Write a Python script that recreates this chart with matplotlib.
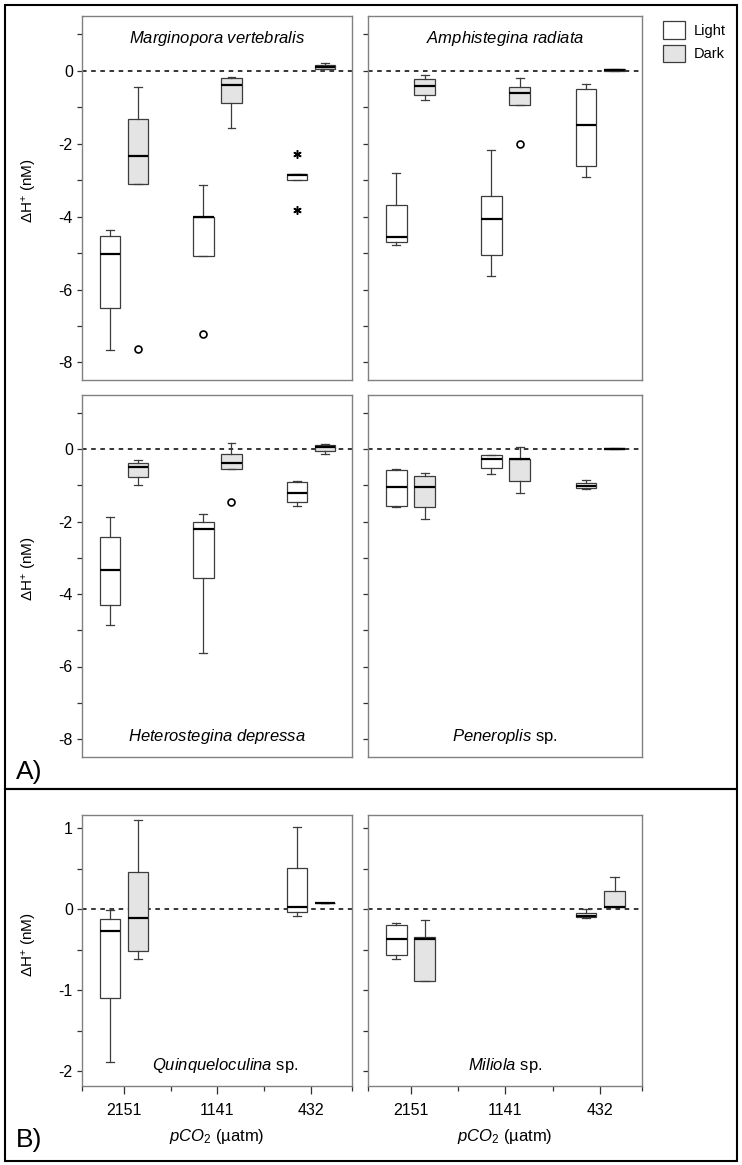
import numpy as np
import matplotlib
matplotlib.use('Agg')
import matplotlib.pyplot as plt
from matplotlib.patches import Patch, Rectangle

plt.rcParams['font.family'] = ['Liberation Sans', 'DejaVu Sans']
plt.rcParams['mathtext.fontset'] = 'custom'
plt.rcParams['mathtext.rm'] = 'Liberation Sans'
plt.rcParams['mathtext.it'] = 'Liberation Sans:italic'
plt.rcParams['mathtext.bf'] = 'Liberation Sans:bold'
plt.rcParams['axes.unicode_minus'] = False

# pCO2 treatments
groups = ['2151', '1141', '432']

# box stats per group: (whislo, q1, med, q3, whishi); None = no box
mv_light = [(-7.66, -6.51, -5.02, -4.53, -4.37), (-5.09, -5.09, -4.02, -4.02, -3.13), (-3.00, -3.00, -2.86, -2.84, -2.84)]
mv_dark = [(-3.11, -3.11, -2.34, -1.32, -0.46), (-1.58, -0.89, -0.40, -0.21, -0.16), (0.04, 0.06, 0.11, 0.16, 0.20)]
mv_light_out = [[], [-7.21], []]
mv_dark_out = [[-7.63], [], []]
mv_light_ext = [[], [], [-2.29, -3.82]]

ar_light = [(-4.79, -4.69, -4.56, -3.67, -2.81), (-5.63, -5.06, -4.06, -3.44, -2.18), (-2.92, -2.62, -1.49, -0.51, -0.37)]
ar_dark = [(-0.80, -0.67, -0.42, -0.24, -0.13), (-0.94, -0.94, -0.62, -0.44, -0.21), (0.00, 0.00, 0.03, 0.05, 0.05)]
ar_dark_out = [[], [-2.02], []]

hd_light = [(-4.84, -4.29, -3.33, -2.41, -1.88), (-5.62, -3.56, -2.21, -2.00, -1.78), (-1.57, -1.46, -1.22, -0.89, -0.87)]
hd_dark = [(-1.00, -0.76, -0.49, -0.38, -0.30), (-0.54, -0.54, -0.39, -0.12, 0.17), (-0.14, -0.05, 0.06, 0.12, 0.15)]
hd_dark_out = [[], [-1.45], []]

pe_light = [(-1.60, -1.57, -1.05, -0.56, -0.54), (-0.69, -0.52, -0.26, -0.17, -0.16), (-1.09, -1.07, -1.01, -0.92, -0.85)]
pe_dark = [(-1.93, -1.60, -1.04, -0.74, -0.66), (-1.21, -0.87, -0.28, -0.26, 0.07), (0.01, 0.01, 0.02, 0.03, 0.03)]

qu_light = [(-1.89, -1.10, -0.27, -0.12, -0.01), None, (-0.09, -0.04, 0.02, 0.51, 1.01)]
qu_dark = [(-0.61, -0.52, -0.11, 0.46, 1.10), None, (0.07, 0.07, 0.08, 0.08, 0.08)]

mi_light = [(-0.61, -0.57, -0.37, -0.19, -0.17), None, (-0.11, -0.10, -0.09, -0.05, 0.00)]
mi_dark = [(-0.88, -0.88, -0.37, -0.34, -0.14), None, (0.02, 0.02, 0.03, 0.22, 0.39)]

none3 = [[], [], []]

LIGHT = 'white'
DARK = '#e4e4e4'
EDGE = '#3c3c3c'
SPINE = '#808080'
TICKFS = 11.5
TITLEFS = 12


def to_stats(rows, outs):
    stats, pos = [], []
    for i, r in enumerate(rows):
        if r is None:
            continue
        stats.append(dict(whislo=r[0], q1=r[1], med=r[2], q3=r[3], whishi=r[4], fliers=outs[i]))
        pos.append(i)
    return stats, pos


def draw_boxes(ax, rows, outs, fill, shift):
    stats, pos = to_stats(rows, outs)
    pos = np.array(pos) + shift
    ax.bxp(stats, positions=pos, widths=0.22, patch_artist=True, manage_ticks=False,
           boxprops=dict(facecolor=fill, edgecolor=EDGE, linewidth=0.9),
           medianprops=dict(color='black', linewidth=1.6),
           whiskerprops=dict(color=EDGE, linewidth=0.9),
           capprops=dict(color=EDGE, linewidth=0.9), capwidths=0.085,
           flierprops=dict(marker='o', markerfacecolor='none', markeredgecolor='black',
                           markersize=5, markeredgewidth=1.2))


def panel(ax, light, dark, lout, dout, ylim, yticks, ylabels, left):
    ax.axhline(0, color='black', ls=(0, (3, 3)), lw=1.1, zorder=0)
    draw_boxes(ax, light, lout, LIGHT, -0.15)
    draw_boxes(ax, dark, dout, DARK, 0.15)
    ax.set_xlim(-0.45, 2.44)
    ax.set_ylim(*ylim)
    ax.set_yticks(yticks)
    if left:
        ax.set_yticklabels(ylabels, fontsize=TICKFS)
        ax.set_ylabel('ΔH$^{+}$ (nM)', fontsize=11)
        ax.yaxis.set_label_coords(-0.16, 0.52)
    else:
        ax.set_yticklabels([])
    ax.tick_params(axis='y', length=3.6, width=0.9, color='#303030', pad=3)
    for s in ax.spines.values():
        s.set_color(SPINE)
        s.set_linewidth(1.0)


fig = plt.figure(figsize=(7.42, 11.65), dpi=100)
H = 1165.0
W = 742.0

def add_ax(x0, y0, x1, y1):
    return fig.add_axes([x0 / W, 1 - y1 / H, (x1 - x0) / W, (y1 - y0) / H])

big_ticks = list(range(-8, 2))
big_labels = [str(t) if t % 2 == 0 else '' for t in big_ticks]
small_ticks = [-2, -1.5, -1, -0.5, 0, 0.5, 1]
small_labels = ['-2', '', '-1', '', '0', '', '1']

ax1 = add_ax(82, 16, 352, 380)
ax2 = add_ax(368, 16, 642, 380)
ax3 = add_ax(82, 395, 352, 757)
ax4 = add_ax(368, 395, 642, 757)
ax5 = add_ax(82, 815, 352, 1086)
ax6 = add_ax(368, 815, 642, 1086)

panel(ax1, mv_light, mv_dark, mv_light_out, mv_dark_out, (-8.48, 1.5), big_ticks, big_labels, True)
for i, ext in enumerate(mv_light_ext):
    if ext:
        ax1.plot([i - 0.15] * len(ext), ext, ls='none', marker=(6, 2, 0), color='black',
                 ms=6, mew=1.1)
panel(ax2, ar_light, ar_dark, none3, ar_dark_out, (-8.48, 1.5), big_ticks, big_labels, False)
panel(ax3, hd_light, hd_dark, none3, hd_dark_out, (-8.5, 1.5), big_ticks, big_labels, True)
panel(ax4, pe_light, pe_dark, none3, none3, (-8.5, 1.5), big_ticks, big_labels, False)
panel(ax5, qu_light, qu_dark, none3, none3, (-2.18, 1.16), small_ticks, small_labels, True)
panel(ax6, mi_light, mi_dark, none3, none3, (-2.18, 1.16), small_ticks, small_labels, False)

for ax in (ax1, ax2, ax3, ax4):
    ax.set_xticks([])

for ax in (ax5, ax6):
    ax.set_xticks(range(len(groups)))
    ax.set_xticklabels(groups, fontsize=TICKFS)
    ax.set_xticks([-0.45, 0.5, 1.5, 2.44], minor=True)
    ax.tick_params(axis='x', which='major', length=6, width=0.9, color='#303030', pad=6)
    ax.tick_params(axis='x', which='minor', length=3.5, width=0.9, color='#303030')
    ax.set_xlabel('$pCO_2$ (µatm)', fontsize=12, labelpad=7)

title_kw = dict(ha='center', fontsize=TITLEFS)
ax1.text(0.5, 0.937, r'$\mathit{Marginopora\ vertebralis}$', transform=ax1.transAxes, va='center', **title_kw)
ax2.text(0.5, 0.937, r'$\mathit{Amphistegina\ radiata}$', transform=ax2.transAxes, va='center', **title_kw)
ax3.text(0.5, 0.058, r'$\mathit{Heterostegina\ depressa}$', transform=ax3.transAxes, va='center', **title_kw)
ax4.text(0.5, 0.058, r'$\mathit{Peneroplis}$ sp.', transform=ax4.transAxes, va='center', **title_kw)
ax5.text(0.53, 0.074, r'$\mathit{Quinqueloculina}$ sp.', transform=ax5.transAxes, va='center', **title_kw)
ax6.text(0.5, 0.074, r'$\mathit{Miliola}$ sp.', transform=ax6.transAxes, va='center', **title_kw)

# outer frames
fig.add_artist(Rectangle((5 / W, 1 - 789 / H), 732 / W, 784 / H, transform=fig.transFigure,
                         fill=False, lw=1.5, edgecolor='black'))
fig.add_artist(Rectangle((5 / W, 1 - 1161 / H), 732 / W, 372 / H, transform=fig.transFigure,
                         fill=False, lw=1.5, edgecolor='black'))
fig.text(16 / W, 1 - 772 / H, 'A)', fontsize=19, va='center', ha='left')
fig.text(16 / W, 1 - 1140 / H, 'B)', fontsize=19, va='center', ha='left')

handles = [Patch(facecolor=LIGHT, edgecolor=EDGE, lw=0.9, label='Light'),
           Patch(facecolor=DARK, edgecolor=EDGE, lw=0.9, label='Dark')]
fig.legend(handles=handles, loc='upper left', bbox_to_anchor=(660 / W, 1 - 18 / H), frameon=False,
           fontsize=10.5, handlelength=1.5, handleheight=1.5, labelspacing=0.4,
           handletextpad=0.6, borderpad=0.2, borderaxespad=0)

fig.savefig('out.png', dpi=100)
